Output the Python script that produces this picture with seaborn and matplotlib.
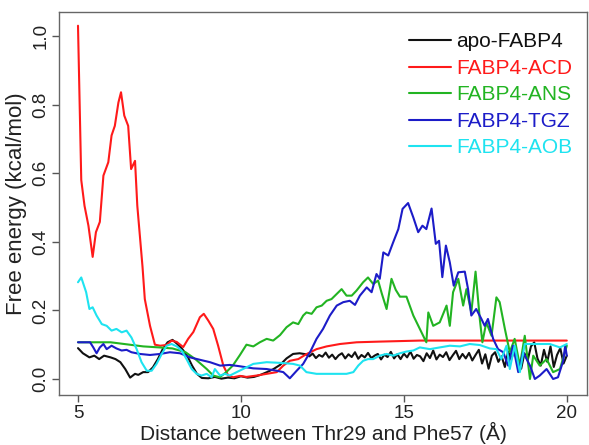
import numpy as np
import pandas as pd
import seaborn as sns
import matplotlib.pyplot as plt

# ---- data (distance in Angstrom, free energy in kcal/mol) ----

apo_x = [5.0, 5.15, 5.35, 5.5, 5.65, 5.8, 6.0, 6.15, 6.3, 6.45, 6.6, 6.75, 6.85, 7.0,
         7.15, 7.3, 7.45, 7.6, 7.75, 7.9, 8.05, 8.2, 8.35, 8.5, 8.65, 8.8, 9.0, 9.2,
         9.4, 9.6, 9.8, 10.0, 10.2, 10.4, 10.6, 10.8, 11.0, 11.2, 11.4, 11.6, 11.8, 12.0]
apo_x = apo_x + list(np.round(np.arange(12.1, 20.05, 0.1), 2))
apo_y = [0.09, 0.075, 0.063, 0.068, 0.058, 0.068, 0.063, 0.058, 0.049, 0.029, 0.004,
         0.015, 0.012, 0.02, 0.02, 0.034, 0.058, 0.087, 0.107, 0.114, 0.102, 0.087,
         0.068, 0.039, 0.015, 0.003, 0.002, 0.006, 0.001, 0.004, 0.002, 0.008, 0.004,
         0.006, 0.012, 0.02, 0.029, 0.041, 0.06, 0.073, 0.075, 0.072,
         0.066, 0.074, 0.061, 0.07, 0.065, 0.077, 0.062, 0.071, 0.058, 0.069,
         0.075, 0.06, 0.072, 0.064, 0.078, 0.059, 0.07, 0.063, 0.076, 0.061,
         0.068, 0.073, 0.057, 0.071, 0.064, 0.079, 0.06, 0.072, 0.058, 0.074,
         0.063, 0.08, 0.059, 0.07, 0.066, 0.052, 0.075, 0.061, 0.083, 0.057,
         0.071, 0.064, 0.078, 0.055, 0.069, 0.082, 0.058, 0.073, 0.06, 0.076,
         0.054, 0.07, 0.085, 0.045, 0.072, 0.03, 0.068, 0.078, 0.05, 0.066,
         0.035, 0.08, 0.058, 0.09, 0.04, 0.03, 0.075, 0.055, 0.095, 0.107,
         0.06, 0.039, 0.085, 0.05, 0.095, 0.035, 0.07, 0.09, 0.045, 0.068]

acd_x = [5.0, 5.1, 5.2, 5.32, 5.45, 5.55, 5.67, 5.78, 5.93, 6.03, 6.13, 6.24, 6.32,
         6.42, 6.54, 6.63, 6.75, 6.82, 6.98, 7.05, 7.21, 7.36, 7.52, 7.72, 7.87, 8.03,
         8.23, 8.38, 8.54, 8.74, 8.86, 9.0, 9.15, 9.3, 9.46, 9.61, 9.76, 9.97, 10.17,
         10.48, 10.79, 11.1, 11.3, 11.5, 11.76, 12.02, 12.32, 12.63, 13.04, 13.55,
         14.26, 15.5, 17.0, 18.5, 20.0]
acd_y = [1.03, 0.58, 0.505, 0.447, 0.356, 0.428, 0.458, 0.593, 0.632, 0.71, 0.738,
         0.806, 0.836, 0.768, 0.738, 0.612, 0.636, 0.505, 0.327, 0.233, 0.155, 0.10,
         0.097, 0.099, 0.112, 0.108, 0.093, 0.117, 0.137, 0.18, 0.19, 0.17, 0.146,
         0.097, 0.039, 0.01, 0.005, 0.009, 0.006, 0.01, 0.015, 0.02, 0.039, 0.053,
         0.058, 0.073, 0.087, 0.095, 0.102, 0.107, 0.109, 0.112, 0.112, 0.112, 0.112]

ans_x = [5.0, 6.0, 7.0, 7.5, 7.9, 8.3, 8.6, 8.95, 9.15, 9.35, 9.55, 9.75, 9.97, 10.17,
         10.38, 10.58, 10.79, 10.99, 11.2, 11.4, 11.6, 11.76, 11.91, 12.01, 12.17,
         12.32, 12.48, 12.63, 12.78, 12.94, 13.09, 13.24, 13.4, 13.55, 13.75, 13.9,
         14.06, 14.21, 14.32, 14.47, 14.62, 14.75, 14.88, 15.08, 15.29, 15.49, 15.69,
         15.75, 15.9, 16.1, 16.31, 16.41, 16.51, 16.67, 16.82, 16.92, 17.07, 17.2,
         17.33, 17.41, 17.53, 17.69, 17.84, 17.94, 18.1, 18.25, 18.4, 18.56, 18.71,
         18.87, 18.97, 19.17, 19.38, 19.58, 19.79, 20.0]
ans_y = [0.107, 0.107, 0.095, 0.092, 0.089, 0.078, 0.058, 0.029, 0.01, 0.005, 0.02,
         0.039, 0.07, 0.1, 0.095, 0.107, 0.117, 0.112, 0.128, 0.151, 0.165, 0.16,
         0.185, 0.194, 0.19, 0.209, 0.214, 0.228, 0.233, 0.248, 0.262, 0.243, 0.243,
         0.258, 0.282, 0.296, 0.277, 0.287, 0.25, 0.204, 0.292, 0.26, 0.24, 0.24,
         0.185, 0.146, 0.107, 0.194, 0.155, 0.165, 0.214, 0.155, 0.253, 0.292, 0.214,
         0.262, 0.194, 0.313, 0.175, 0.107, 0.165, 0.126, 0.238, 0.224, 0.146, 0.078,
         0.117, 0.039, 0.126, 0.0, 0.068, 0.039, 0.058, 0.02, 0.029, 0.097]

tgz_x = [5.0, 5.37, 5.47, 5.57, 5.67, 5.78, 5.88, 6.03, 6.18, 6.34, 6.49, 6.64, 6.9,
         7.21, 7.52, 7.82, 8.13, 8.44, 8.74, 9.05, 9.36, 9.66, 9.97, 10.38, 10.79,
         11.1, 11.3, 11.5, 11.71, 11.91, 12.12, 12.32, 12.52, 12.73, 12.94, 13.14,
         13.34, 13.5, 13.65, 13.86, 14.01, 14.16, 14.26, 14.37, 14.52, 14.67, 14.83,
         14.96, 15.13, 15.29, 15.44, 15.57, 15.69, 15.85, 15.98, 16.08, 16.18, 16.29,
         16.41, 16.53, 16.67, 16.87, 16.97, 17.07, 17.22, 17.38, 17.48, 17.58, 17.74,
         17.89, 18.05, 18.2, 18.35, 18.51, 18.66, 18.87, 19.02, 19.17, 19.38, 19.58,
         19.73, 19.89, 19.95, 20.0]
tgz_y = [0.107, 0.107, 0.092, 0.075, 0.092, 0.102, 0.087, 0.097, 0.089, 0.083, 0.085,
         0.078, 0.073, 0.07, 0.073, 0.078, 0.075, 0.063, 0.056, 0.049, 0.039, 0.041,
         0.037, 0.031, 0.029, 0.024, 0.02, 0.002, 0.024, 0.044, 0.078, 0.117, 0.146,
         0.185, 0.214, 0.224, 0.228, 0.216, 0.243, 0.267, 0.253, 0.306, 0.292, 0.369,
         0.36, 0.398, 0.437, 0.496, 0.513, 0.471, 0.428, 0.447, 0.437, 0.497, 0.394,
         0.403, 0.297, 0.389, 0.34, 0.272, 0.311, 0.313, 0.262, 0.185, 0.204, 0.175,
         0.155, 0.175, 0.117, 0.087, 0.078, 0.039, 0.097, 0.02, 0.078, 0.039, 0.0,
         0.01, 0.029, 0.0, 0.005, 0.053, 0.097, 0.068]

aob_x = [5.0, 5.1, 5.25, 5.35, 5.45, 5.57, 5.73, 5.88, 6.03, 6.18, 6.34, 6.49, 6.64,
         6.8, 6.95, 7.11, 7.26, 7.41, 7.57, 7.72, 7.87, 8.03, 8.18, 8.33, 8.49, 8.64,
         8.79, 8.95, 9.1, 9.2, 9.36, 9.51, 9.66, 9.87, 10.17, 10.38, 10.79, 11.2, 11.6,
         11.81, 12.01, 12.32, 12.63, 12.94, 13.24, 13.45, 13.6, 13.75, 13.9, 14.06,
         14.26, 14.47, 14.67, 14.88, 15.08, 15.29, 15.49, 15.8, 16.1, 16.41, 16.72,
         17.02, 17.33, 17.64, 17.84, 17.99, 18.15, 18.25, 18.4, 18.56, 18.71, 18.87,
         19.07, 19.48, 19.79, 20.0]
aob_y = [0.282, 0.296, 0.253, 0.204, 0.209, 0.185, 0.16, 0.155, 0.141, 0.146, 0.136,
         0.141, 0.121, 0.087, 0.049, 0.024, 0.024, 0.044, 0.073, 0.097, 0.102, 0.095,
         0.083, 0.058, 0.029, 0.015, 0.01, 0.015, 0.005, 0.029, 0.01, 0.015, 0.01,
         0.02, 0.034, 0.044, 0.049, 0.047, 0.044, 0.039, 0.02, 0.015, 0.015, 0.015,
         0.015, 0.02, 0.039, 0.053, 0.058, 0.058, 0.068, 0.073, 0.068, 0.075, 0.08,
         0.083, 0.092, 0.087, 0.092, 0.097, 0.095, 0.102, 0.099, 0.089, 0.087, 0.058,
         0.097, 0.029, 0.097, 0.02, 0.102, 0.102, 0.102, 0.102, 0.092, 0.102]

systems = ["apo-FABP4", "FABP4-ACD", "FABP4-ANS", "FABP4-TGZ", "FABP4-AOB"]
colors = ["#111111", "#ff1a1a", "#22b422", "#1c1cc8", "#1ee3f0"]

x_ticks = [5, 10, 15, 20]
y_ticks = [0.0, 0.2, 0.4, 0.6, 0.8, 1.0]
y_tick_labels = ["0.0", "0.2", "0.4", "0.6", "0.8", "1.0"]

# long form table for seaborn
frames = []
for name, xs, ys in zip(systems,
                        [apo_x, acd_x, ans_x, tgz_x, aob_x],
                        [apo_y, acd_y, ans_y, tgz_y, aob_y]):
    frames.append(pd.DataFrame({"dist": xs, "fe": ys, "system": name}))
df = pd.concat(frames, ignore_index=True)

sns.set_style("white")
plt.rcParams['font.family'] = ['Liberation Sans', 'DejaVu Sans']
text_col = "#222222"

fig = plt.figure(figsize=(5.89, 4.45), dpi=100)
ax = fig.add_axes([59 / 589, 1 - 395 / 445, 528 / 589, 383 / 445])

sns.lineplot(data=df, x="dist", y="fe", hue="system", hue_order=systems,
             palette=colors, estimator=None, sort=False, linewidth=1.5, ax=ax)

ax.set_xlim(4.417, 20.62)
ax.set_ylim(-0.0467, 1.070)
ax.set_xticks(x_ticks)
ax.set_xticklabels([str(t) for t in x_ticks], fontsize=13.5, color=text_col)
ax.set_yticks(y_ticks)
ax.set_yticklabels(y_tick_labels, fontsize=13.5, color=text_col, rotation=90, va="center")
ax.tick_params(direction="out", length=5, width=1, color="#555555", pad=2,
               bottom=True, left=True)

for s in ax.spines.values():
    s.set_color("#666666")
    s.set_linewidth(1.0)

ax.set_xlabel("Distance between Thr29 and Phe57 (Å)", fontsize=15, color=text_col, labelpad=0)
ax.set_ylabel("Free energy (kcal/mol)", fontsize=16, color=text_col, labelpad=4)

ax.legend(loc="upper right", bbox_to_anchor=(1.0, 0.985), frameon=False,
          labelcolor="linecolor", fontsize=15, handlelength=2.0,
          handletextpad=0.25, labelspacing=0.36, borderaxespad=0.3)

plt.savefig("out.png", dpi=100)
